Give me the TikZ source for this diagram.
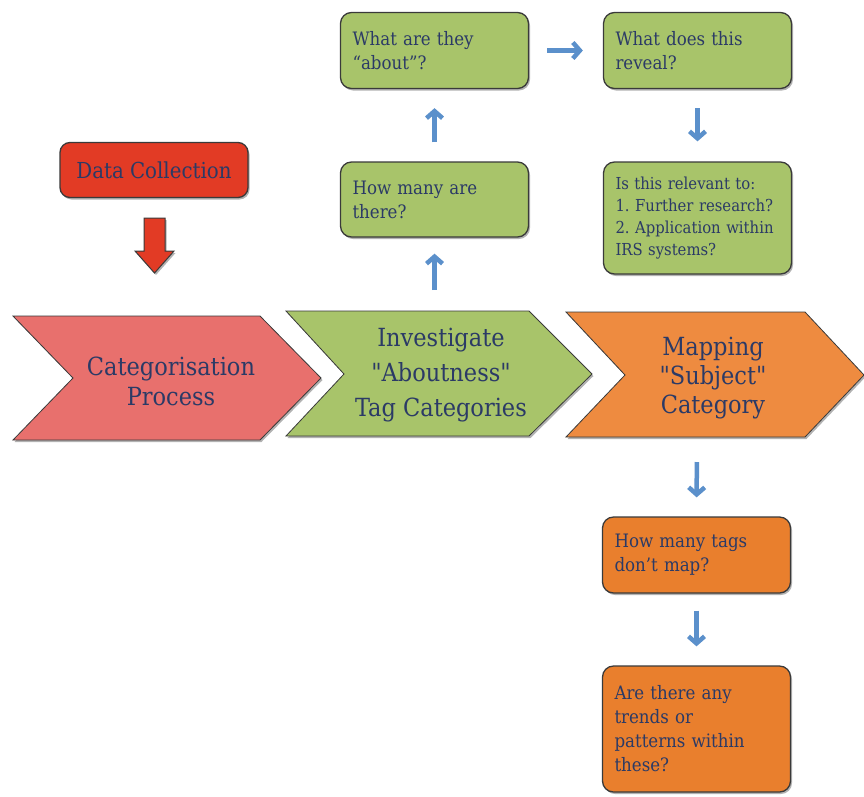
\documentclass[tikz,border=0pt]{standalone}
\usepackage{fontspec}
\setmainfont{DejaVu Serif Condensed}
\usetikzlibrary{arrows.meta,shadows}
\definecolor{navy}{HTML}{2B3A66}
\definecolor{pinkc}{HTML}{E8706D}
\definecolor{greenc}{HTML}{A8C46A}
\definecolor{orangec}{HTML}{EE8B40}
\definecolor{orangeb}{HTML}{E97F2D}
\definecolor{redc}{HTML}{E23B25}
\definecolor{bluec}{HTML}{5B90CB}
\definecolor{edgec}{HTML}{3A3A3A}
\frenchspacing
\begin{document}
\begin{tikzpicture}[x=1pt,y=-1pt,
  shad/.style={drop shadow={shadow xshift=1.5pt,shadow yshift=-2pt,opacity=0.3,fill=black}},
  chev/.style={draw=edgec,line width=0.8pt,shad},
  chevtext/.style={align=center,text=navy,font=\fontsize{25}{30}\selectfont},
  qbox/.style={draw=edgec,line width=1.3pt,rounded corners=11pt,minimum width=188pt,
    text width=164pt,inner xsep=12pt,inner ysep=6pt,align=left,text=navy,
    font=\fontsize{18.5}{24}\selectfont,shad},
  greenbox/.style={qbox,fill=greenc},
  orangebox/.style={qbox,fill=orangeb},
  flow/.style={draw=bluec,line width=4.5pt,-{Straight Barb[length=7pt,width=16pt]}}
]
\useasboundingbox (0,0) rectangle (864,796);
\fill[white] (0,0) rectangle (864,796);

% chevrons
\path[chev,fill=pinkc] (13,316) -- (260,316) -- (321,378) -- (260,440) -- (13,440) -- (73,378) -- cycle;
\path[chev,fill=greenc] (286,311) -- (529,311) -- (592,374) -- (529,436) -- (286,436) -- (344,374) -- cycle;
\path[chev,fill=orangec] (566,312) -- (805,312) -- (864,375) -- (805,437) -- (566,437) -- (625,375) -- cycle;
\coordinate (c2top) at (434.5,311);
\coordinate (c3bot) at (697,437);

\node[chevtext] (cat) at (171,381) {Categorisation\\Process};
\node[chevtext,font=\fontsize{25}{35}\selectfont] (inv) at (441,375)
  {Investigate\\\textquotedbl Aboutness\textquotedbl\\Tag Categories};
\node[chevtext,font=\fontsize{25}{29}\selectfont] (map) at (713,378)
  {Mapping\\\textquotedbl Subject\textquotedbl\\Category};

% data collection
\node[draw=edgec,line width=1.3pt,rounded corners=10pt,fill=redc,minimum width=188pt,
  minimum height=55pt,text=navy,font=\fontsize{22}{26}\selectfont,shad] (dc) at (154,170) {Data Collection};
\path[draw=edgec,line width=1pt,fill=redc,shad] (144,218) -- (165,218) -- (165,251) -- (174,251)
  -- (154.5,273) -- (135,251) -- (144,251) -- cycle;

% question boxes
\node[greenbox,minimum height=76pt] (q1) at (434.5,50.5) {What are they\\“about”?};
\node[greenbox,minimum height=76pt] (q2) at (697.5,50.5) {What does this\\reveal?};
\node[greenbox,minimum height=75pt] (q3) at (434.5,199.5) {How many are\\there?};
\node[greenbox,minimum height=112pt,font=\fontsize{16.5}{22}\selectfont] (q4) at (697.5,218)
  {Is this relevant to:\\1. Further research?\\2. Application within\\IRS systems?};
\node[orangebox,minimum height=76pt] (q5) at (696.5,555) {How many tags\\don't map?};
\node[orangebox,minimum height=126pt] (q6) at (696.5,729) {Are there any\\trends or\\patterns within\\these?};

% connectors
\draw[flow,shorten <=21pt,shorten >=16pt] (c2top) -- (q3.south);
\draw[flow,shorten <=19pt,shorten >=19pt] (q3.north) -- (q1.south);
\draw[flow,shorten <=18pt,shorten >=20pt] (q1.east) -- (q2.west);
\draw[flow,shorten <=19pt,shorten >=20pt] (q2.south) -- (q4.north);
\draw[flow,shorten <=25pt,shorten >=19pt] (c3bot) -- (q5.north);
\draw[flow,shorten <=17pt,shorten >=19pt] (q5.south) -- (q6.north);
\end{tikzpicture}
\end{document}
